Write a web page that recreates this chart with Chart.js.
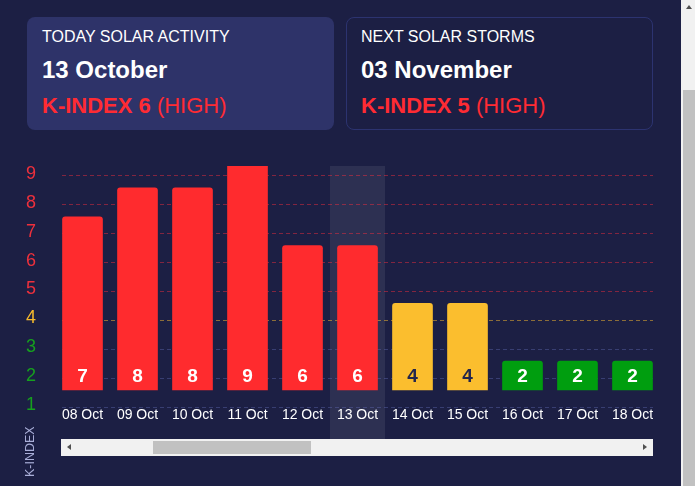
<!DOCTYPE html>
<html>
<head>
<meta charset="utf-8">
<script src="https://cdn.jsdelivr.net/npm/chart.js@4/dist/chart.umd.min.js"></script>
<style>
    html, body { margin: 0; padding: 0; }
    body {
        width: 695px; height: 486px; overflow: hidden; position: relative;
        background: #1c1f44; font-family: 'Liberation Sans', Arial, sans-serif;
    }
    .card { position: absolute; top: 17px; width: 307px; height: 113px; border-radius: 8px; box-sizing: border-box; }
    #todayCard { left: 27px; background: #2e3369; }
    #nextCard { left: 346px; border: 1px solid #2c3370; }
    .line { position: absolute; left: 15px; white-space: nowrap; line-height: 1; }
    #nextCard .line { left: 14px; }
    .title { top: 11.5px; font-size: 16px; color: #fff; }
    .date { top: 40.7px; font-size: 24px; font-weight: bold; color: #fff; }
    .level { top: 78.4px; font-size: 22px; color: #ff2b33; }
    #nextCard .title { top: 10.5px; }
    #nextCard .date { top: 39.7px; }
    #nextCard .level { top: 77.4px; }

    #axisChart { position: absolute; left: 0; top: 150px; }
    #scrollBox { position: absolute; left: 61px; top: 150px; width: 592px; height: 289px; overflow: hidden; }
    #kChart { position: absolute; left: -6.5px; top: 0; }

    .track { position: absolute; background: #f1f1f1; }
    .thumb { position: absolute; background: #c1c1c1; }
    .arrow { position: absolute; width: 0; height: 0; }
</style>
</head>
<body>

<div class="card" id="todayCard">
    <div class="line title">TODAY SOLAR ACTIVITY</div>
    <div class="line date">13 October</div>
    <div class="line level"><b>K-INDEX 6</b> (HIGH)</div>
</div>
<div class="card" id="nextCard">
    <div class="line title">NEXT SOLAR STORMS</div>
    <div class="line date">03 November</div>
    <div class="line level"><b>K-INDEX 5</b> (HIGH)</div>
</div>

<canvas id="axisChart" width="200" height="336"></canvas>
<div id="scrollBox"><canvas id="kChart" width="605" height="289"></canvas></div>

<!-- horizontal scrollbar of the chart -->
<div class="track" style="left:61px; top:439px; width:592px; height:17px;"></div>
<div class="thumb" style="left:153px; top:441px; width:158px; height:13px;"></div>
<div class="arrow" style="left:67px; top:444px; border-top:3.5px solid transparent; border-bottom:3.5px solid transparent; border-right:4px solid #505050;"></div>
<div class="arrow" style="left:643px; top:444px; border-top:3.5px solid transparent; border-bottom:3.5px solid transparent; border-left:4px solid #505050;"></div>

<!-- page scrollbar -->
<div class="track" style="left:681px; top:0; width:14px; height:486px;"></div>
<div class="thumb" style="left:683px; top:90px; width:12px; height:396px;"></div>
<div class="arrow" style="left:686px; top:5px; border-left:3.5px solid transparent; border-right:3.5px solid transparent; border-bottom:4px solid #505050;"></div>

<script>
const dayLabels = ['08 Oct', '09 Oct', '10 Oct', '11 Oct', '12 Oct', '13 Oct', '14 Oct', '15 Oct', '16 Oct', '17 Oct', '18 Oct'];
const kIndex = [7, 8, 8, 9, 6, 6, 4, 4, 2, 2, 2];
const kTicks = [1, 2, 3, 4, 5, 6, 7, 8, 9];
const todayLabel = '13 Oct';

const RED = '#ff2b2e', YELLOW = '#fbbe2e', GREEN = '#009e0f';
const TICK_RED = '#ee303c', TICK_YELLOW = '#f5b82c', TICK_GREEN = '#16a01e';
const FONT = '"Liberation Sans", Arial, sans-serif';

// k-index range shown, shared by the side axis and the grid
const yMin = 1, yMax = 9.346;
// bars sit a bit higher than the grid in the original
const barShift = 0.589;
// side axis runs on below level 1 (room for its title)
const axisMin = yMin - 72 / 28.876;

function barColor(v) {
    if (v >= 5) return RED;
    if (v === 4) return YELLOW;
    return GREEN;
}
function tickColor(v) {
    if (v >= 5) return TICK_RED;
    if (v === 4) return TICK_YELLOW;
    return TICK_GREEN;
}
function gridColor(v) {
    if (v >= 5) return 'rgba(255,45,60,0.45)';
    if (v === 4) return 'rgba(251,190,46,0.5)';
    return 'rgba(90,100,170,0.45)';
}
function useTicks(scale) {
    scale.ticks = kTicks.map(function(v) { return { value: v }; });
}

const todayColumn = {
    id: 'todayColumn',
    beforeDraw: function(chart) {
        const x = chart.scales.x;
        const idx = dayLabels.indexOf(todayLabel);
        if (idx < 0) return;
        const w = x.width / dayLabels.length;
        const cx = x.getPixelForValue(idx);
        const ctx = chart.ctx;
        ctx.save();
        ctx.fillStyle = 'rgba(255,255,255,0.08)';
        ctx.fillRect(cx - w / 2, chart.chartArea.top, w, chart.height - chart.chartArea.top);
        ctx.restore();
    }
};

const valueLabels = {
    id: 'valueLabels',
    afterDatasetsDraw: function(chart) {
        const ctx = chart.ctx;
        const meta = chart.getDatasetMeta(0);
        ctx.save();
        ctx.font = 'bold 19px ' + FONT;
        ctx.textAlign = 'center';
        ctx.textBaseline = 'middle';
        meta.data.forEach(function(bar, i) {
            const v = kIndex[i];
            ctx.fillStyle = v === 4 ? '#23264d' : '#ffffff';
            ctx.fillText(String(v), bar.x, bar.base - 13);
        });
        ctx.restore();
    }
};

new Chart(document.getElementById('kChart'), {
    type: 'bar',
    data: {
        labels: dayLabels,
        datasets: [{
            label: 'K-index',
            data: kIndex,
            base: 1,
            yAxisID: 'y',
            backgroundColor: function(c) { return barColor(kIndex[c.dataIndex]); },
            barThickness: 40,
            borderRadius: 3
        }]
    },
    options: {
        responsive: false,
        animation: false,
        devicePixelRatio: 1,
        layout: { padding: { top: 16, left: 0, right: 0, bottom: 0 } },
        plugins: { legend: { display: false }, tooltip: { enabled: false } },
        scales: {
            x: {
                grid: { display: false, drawTicks: false },
                border: { display: false },
                ticks: {
                    color: '#ffffff',
                    padding: 0,
                    maxRotation: 0,
                    font: { family: FONT, size: 14 }
                },
                afterFit: function(s) { s.height = 32; }
            },
            y: {
                display: false,
                min: yMin - barShift,
                max: yMax - barShift
            },
            yGrid: {
                position: 'left',
                min: yMin,
                max: yMax,
                afterBuildTicks: useTicks,
                ticks: { display: false },
                grid: {
                    drawTicks: false,
                    color: function(c) { return gridColor(c.tick ? c.tick.value : 0); },
                    lineWidth: 1,
                    borderDash: [4, 3]
                },
                border: { display: false, dash: [4, 3] },
                afterFit: function(s) { s.width = 0; }
            }
        }
    },
    plugins: [todayColumn, valueLabels]
});

// fixed side axis with the k-index levels
new Chart(document.getElementById('axisChart'), {
    type: 'bar',
    data: { labels: [], datasets: [] },
    options: {
        responsive: false,
        animation: false,
        devicePixelRatio: 1,
        layout: { padding: { top: 14, bottom: 9, left: 0, right: 0 } },
        plugins: { legend: { display: false }, tooltip: { enabled: false } },
        scales: {
            x: { display: false },
            y: {
                min: axisMin,
                max: yMax,
                afterBuildTicks: useTicks,
                grid: { display: false, drawTicks: false },
                border: { display: false },
                ticks: {
                    crossAlign: 'center',
                    padding: 0,
                    color: function(c) { return tickColor(c.tick ? c.tick.value : 0); },
                    font: { family: FONT, size: 18, lineHeight: 1 }
                },
                title: {
                    display: true,
                    text: 'K-INDEX',
                    align: 'start',
                    color: '#a9aed8',
                    padding: { top: 23, bottom: 0 },
                    font: { family: FONT, size: 12.5 }
                },
                afterFit: function(s) { s.width = 36; }
            }
        }
    }
});
</script>
</body>
</html>
